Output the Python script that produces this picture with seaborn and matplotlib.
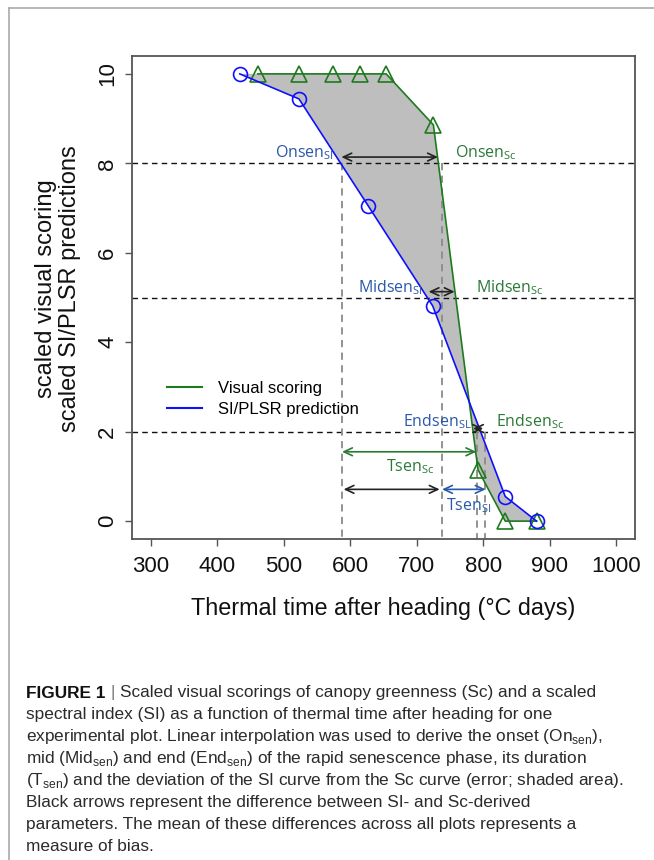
import matplotlib
matplotlib.use("Agg")
import matplotlib.pyplot as plt
import seaborn as sns
import numpy as np
import pandas as pd
from matplotlib.lines import Line2D

# ---------------- data ----------------
sc_x = [461, 523, 574, 614, 654, 725, 792, 833, 880]
sc_y = [10, 10, 10, 10, 10, 8.86, 1.15, 0, 0]
si_x = [434, 523, 627, 724, 833, 880]
si_y = [10, 9.44, 7.05, 4.81, 0.55, 0]

x_ticks = [300, 400, 500, 600, 700, 800, 900, 1000]
y_ticks = [0, 2, 4, 6, 8, 10]

h_levels = [8, 5, 2]
v_lines_x = [587, 738, 790, 803]
v_lines_top = [8, 8, 2, 2]

# arrows: x_start, x_end, y
arrow_x0 = [586.7, 717.8, 784.5, 587.7, 590.0, 738.0]
arrow_x1 = [731.8, 757.0, 800.0, 789.5, 734.4, 803.5]
arrow_y = [8.14, 5.13, 2.07, 1.55, 0.71, 0.71]
arrow_kind = ["black", "black", "black", "green", "black", "blue"]

label_main = ["Onsen", "Onsen", "Midsen", "Midsen", "Endsen", "Endsen", "Tsen", "Tsen"]
label_sub = ["SI", "Sc", "SI", "Sc", "SL", "Sc", "Sc", "SI"]
label_x = [576, 758, 709, 789, 782, 819, 654, 744]
label_y = [8.14, 8.14, 5.12, 5.12, 2.12, 2.12, 1.12, 0.245]
label_ha = ["right", "left", "right", "left", "right", "left", "left", "left"]
label_kind = ["blue", "green", "blue", "green", "blue", "green", "green", "blue"]

legend_labels = ["Visual scoring", "SI/PLSR prediction"]

caption_lines = [
    "Scaled visual scorings of canopy greenness (Sc) and a scaled",
    "spectral index (SI) as a function of thermal time after heading for one",
    r"experimental plot. Linear interpolation was used to derive the onset (On$_{\mathregular{sen}}$),",
    r"mid (Mid$_{\mathregular{sen}}$) and end (End$_{\mathregular{sen}}$) of the rapid senescence phase, its duration",
    r"(T$_{\mathregular{sen}}$) and the deviation of the SI curve from the Sc curve (error; shaded area).",
    "Black arrows represent the difference between SI- and Sc-derived",
    "parameters. The mean of these differences across all plots represents a",
    "measure of bias.",
]

# ---------------- style ----------------
GREEN_LINE = "#1e7a1e"
BLUE_LINE = "#1010ff"
GREEN_TXT = "#2a7a36"
BLUE_TXT = "#2a58a8"
FILL = "#bebebe"
SPINE = "#555555"
colors = {"black": "#222222", "green": GREEN_TXT, "blue": BLUE_TXT}

plt.rcParams["font.family"] = ["Liberation Sans", "DejaVu Sans"]
plt.rcParams["mathtext.fontset"] = "custom"

fig = plt.figure(figsize=(6.54, 8.6), dpi=100)
W, H = 654, 860
ax = fig.add_axes([132 / W, 1 - 539 / H, (635 - 132) / W, (539 - 56) / H])

df_sc = pd.DataFrame({"x": sc_x, "y": sc_y})
df_si = pd.DataFrame({"x": si_x, "y": si_y})

# shaded deviation area
ax.fill(np.concatenate([sc_x, si_x[::-1]]), np.concatenate([sc_y, si_y[::-1]]),
        color=FILL, lw=0, zorder=1)

sns.lineplot(data=df_sc, x="x", y="y", ax=ax, color=GREEN_LINE, lw=1.2, sort=False,
             marker="^", markersize=11, markerfacecolor="none", markeredgecolor=GREEN_LINE,
             markeredgewidth=1.2, zorder=4)
sns.lineplot(data=df_si, x="x", y="y", ax=ax, color=BLUE_LINE, lw=1.2, sort=False,
             marker="o", markersize=10, markerfacecolor="none", markeredgecolor=BLUE_LINE,
             markeredgewidth=1.2, zorder=4)

ax.set_xlim(272, 1028)
ax.set_ylim(-0.4, 10.4)

for yv in h_levels:
    ax.axhline(yv, color="#111111", lw=1.0, ls=(0, (4, 3)), zorder=2)
for xv, top in zip(v_lines_x, v_lines_top):
    ax.plot([xv, xv], [top, -0.4], color="#8a8a8a", lw=1.3, ls=(0, (4, 3)), zorder=2)

for x0, x1, yv, k in zip(arrow_x0, arrow_x1, arrow_y, arrow_kind):
    ax.annotate("", xy=(x1, yv), xytext=(x0, yv),
                arrowprops=dict(arrowstyle="<->,head_length=0.6,head_width=0.28",
                                color=colors[k], lw=1.2, shrinkA=0, shrinkB=0),
                zorder=5)

for m, s, xv, yv, ha, k in zip(label_main, label_sub, label_x, label_y, label_ha, label_kind):
    ax.text(xv, yv, m + r"$_{\mathregular{" + s + "}}$", ha=ha, va="baseline",
            color=colors[k], fontsize=11.5, family=["Open Sans", "DejaVu Sans"], zorder=6)

# axes styling
for sp in ax.spines.values():
    sp.set_color(SPINE)
    sp.set_linewidth(1.3)
ax.set_xticks(x_ticks)
ax.set_xticklabels([str(v) for v in x_ticks])
ax.set_yticks(y_ticks)
ax.set_yticklabels([str(v) for v in y_ticks], rotation=90, va="center")
ax.tick_params(axis="both", length=5, width=1.0, color=SPINE, labelsize=16, labelcolor="#111111")
ax.tick_params(axis="x", pad=7)
ax.tick_params(axis="y", pad=5)
ax.set_xlabel("Thermal time after heading (°C days)", fontsize=16.8, color="#111111", labelpad=15)
ax.set_ylabel("scaled visual scoring\nscaled SI/PLSR predictions", fontsize=17,
              color="#111111", linespacing=1.1)
ax.yaxis.set_label_coords((81 - 132) / (635 - 132), 0.519)

handles = [Line2D([0], [0], color=GREEN_LINE, lw=1.5), Line2D([0], [0], color=BLUE_LINE, lw=1.5)]
ax.legend(handles, legend_labels, loc="center left", bbox_to_anchor=(0.039, 0.29),
          frameon=False, fontsize=12, handlelength=2.1, handletextpad=1.0, labelspacing=0.4)

# frame lines of the figure panel
fig.add_artist(Line2D([9 / W, 1.0], [1 - 8 / H, 1 - 8 / H], color="#aaaaaa", lw=1.2))
fig.add_artist(Line2D([9 / W, 9 / W], [1 - 8 / H, 0], color="#aaaaaa", lw=1.2))

# caption
fig.canvas.draw()
renderer = fig.canvas.get_renderer()
cap_fs = 11.3
probe = fig.text(0, 0, caption_lines[4], fontsize=cap_fs)
wpx = probe.get_window_extent(renderer).width
probe.remove()
cap_fs = cap_fs * (598 / wpx)

x_left = 26 / W
y0 = 693
dy = 21.9
t_bold = fig.text(x_left, 1 - y0 / H, "FIGURE 1", fontsize=cap_fs, fontweight="bold",
                  color="#111111", va="center")
bb = t_bold.get_window_extent(renderer)
t_bar = fig.text((bb.x1 + 5) / W, 1 - y0 / H, "|", fontsize=cap_fs, color="#777777", va="center")
bb2 = t_bar.get_window_extent(renderer)
fig.text((bb2.x1 + 5) / W, 1 - y0 / H, caption_lines[0], fontsize=cap_fs, color="#2b2b2b",
         va="center")
for i, line in enumerate(caption_lines[1:], start=1):
    fig.text(x_left, 1 - (y0 + i * dy) / H, line, fontsize=cap_fs, color="#2b2b2b", va="center")

fig.savefig("out.png", dpi=100)
